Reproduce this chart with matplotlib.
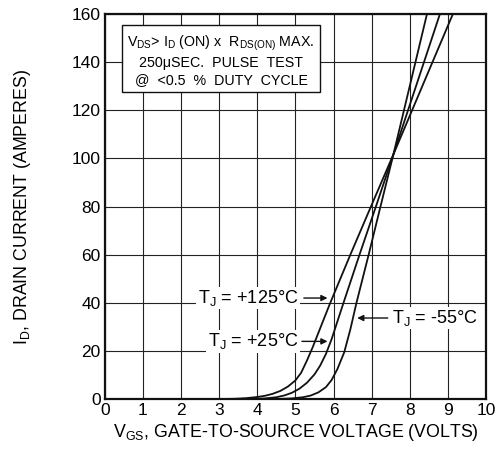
import matplotlib
matplotlib.use("Agg")
import matplotlib.pyplot as plt

plt.rcParams['font.family'] = ['Liberation Sans', 'DejaVu Sans']
plt.rcParams['mathtext.fontset'] = 'custom'
plt.rcParams['mathtext.rm'] = 'Liberation Sans'
plt.rcParams['mathtext.it'] = 'Liberation Sans'

# Data
vgs_125 = [3.0, 3.4, 3.7, 4.0, 4.2, 4.4, 4.6, 4.8, 5.0, 5.15, 5.3, 5.45, 5.6, 5.9, 6.44, 6.98, 7.57, 9.13]
id_125 = [0.05, 0.15, 0.4, 0.9, 1.4, 2.2, 3.4, 5.2, 7.8, 11.0, 16.0, 21.5, 27.5, 39.5, 60.0, 80.0, 101.7, 160.0]

vgs_25 = [3.8, 4.2, 4.5, 4.7, 4.9, 5.1, 5.3, 5.5, 5.65, 5.8, 5.95, 6.26, 6.68, 7.11, 7.57, 8.79]
id_25 = [0.05, 0.3, 0.8, 1.5, 2.6, 4.3, 6.8, 10.3, 14.0, 18.8, 25.0, 40.0, 60.0, 80.0, 101.7, 160.0]

vgs_m55 = [4.5, 4.9, 5.2, 5.4, 5.6, 5.8, 5.95, 6.1, 6.28, 6.44, 6.6, 6.92, 7.23, 7.57, 8.45]
id_m55 = [0.05, 0.3, 0.8, 1.5, 2.8, 5.0, 8.0, 12.5, 19.5, 29.0, 40.0, 60.0, 80.0, 101.7, 160.0]

x_ticks = [0, 1, 2, 3, 4, 5, 6, 7, 8, 9, 10]
y_ticks = [0, 20, 40, 60, 80, 100, 120, 140, 160]

fig = plt.figure(figsize=(4.97, 4.5), dpi=100)
ax = fig.add_axes([0.211, 0.113, 0.767, 0.856])
ax.set_xlim(0, 10)
ax.set_ylim(0, 160)
ax.set_xticks(x_ticks)
ax.set_yticks(y_ticks)
ax.grid(True, color='#222222', linewidth=0.8)
ax.tick_params(length=0, labelsize=12.5, pad=3)
for s in ax.spines.values():
    s.set_linewidth(1.6)
    s.set_color('#111111')

for v, i in ((vgs_125, id_125), (vgs_25, id_25), (vgs_m55, id_m55)):
    ax.plot(v, i, color='#111111', linewidth=1.3, zorder=3)

ax.set_xlabel(r'V$_{\mathrm{GS}}$, GATE-TO-SOURCE VOLTAGE (VOLTS)', fontsize=12.8, labelpad=3)
ax.set_ylabel(r'I$_{\mathrm{D}}$, DRAIN CURRENT (AMPERES)', fontsize=12.8, labelpad=28)

# Text box
box = dict(boxstyle='square,pad=0.38', facecolor='white', edgecolor='#111111', linewidth=1.0)
ax.text(3.05, 140.8, r'V$_{\mathrm{DS}}$> I$_{\mathrm{D}}$ (ON) x  R$_{\mathrm{DS(ON)}}$ MAX.' + '\n'
        + '250\u03bcSEC.  PULSE  TEST\n@  <0.5  %  DUTY  CYCLE',
        ha='center', va='center', fontsize=10.3, linespacing=1.25, bbox=box, zorder=5)

lbl = dict(fontsize=13, va='center', zorder=6,
           bbox=dict(facecolor='white', edgecolor='none', pad=1.0))
ax.text(5.07, 42, r'T$_{\mathrm{J}}$ = +125°C', ha='right', **lbl)
ax.text(5.07, 24, r'T$_{\mathrm{J}}$ = +25°C', ha='right', **lbl)
ax.text(7.52, 33.7, r'T$_{\mathrm{J}}$ = -55°C', ha='left', **lbl)

arr = dict(arrowstyle='-|>', color='#111111', lw=1.0, mutation_scale=9,
           shrinkA=0, shrinkB=0)
ax.annotate('', xy=(5.84, 42), xytext=(5.22, 42), arrowprops=arr, zorder=6)
ax.annotate('', xy=(5.84, 24), xytext=(5.17, 24), arrowprops=arr, zorder=6)
ax.annotate('', xy=(6.62, 33.7), xytext=(7.42, 33.7), arrowprops=arr, zorder=6)

fig.savefig('out.png', dpi=100)
